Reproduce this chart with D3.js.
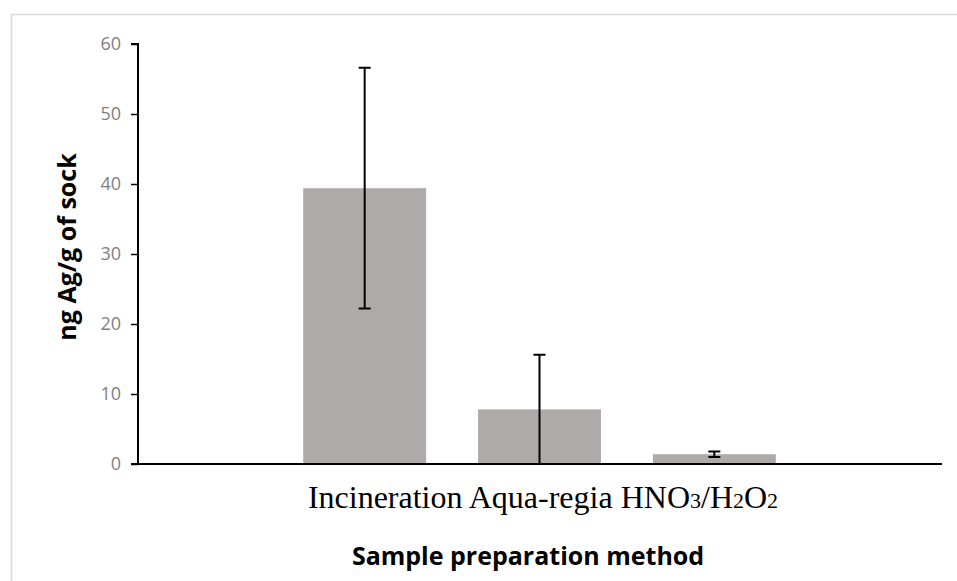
<!DOCTYPE html>
<html>
<head>
<meta charset="utf-8">
<script src="https://cdn.jsdelivr.net/npm/d3@7"></script>
<style>
  body { margin: 0; background: #fff; }
  svg { display: block; }
</style>
</head>
<body>
<div id="chart"></div>
<script>
// chart values
var categories = ["Incineration", "Aqua-regia", "HNO3/H2O2"];
var means = [39.4, 7.8, 1.4];
var errors = [17.2, 7.8, 0.4];
var yTicks = [0, 10, 20, 30, 40, 50, 60];

// the category line is printed as one string; digits after letters are small
var labelParts = [
    { t: "Incineration Aqua-regia HNO", sub: false },
    { t: "3", sub: true },
    { t: "/H", sub: false },
    { t: "2", sub: true },
    { t: "O", sub: false },
    { t: "2", sub: true }
];

function barchart() {
    var w = 957;
    var h = 581;

    var margin = { top: 44, right: 14, bottom: 117, left: 138 };
    var iw = w - margin.left - margin.right;
    var ih = h - margin.top - margin.bottom;

    var svg = d3.select("#chart")
        .append("svg")
        .attr("width", w)
        .attr("height", h);

    // light frame round the chart area
    svg.append("rect")
        .attr("x", 11.5)
        .attr("y", 14.5)
        .attr("width", w)
        .attr("height", h)
        .style("fill", "none")
        .style("stroke", "#d9d9d9")
        .style("stroke-width", 1.5);

    var g = svg.append("g")
        .attr("transform", "translate(" + margin.left + "," + margin.top + ")");

    var xScale = d3.scaleBand()
        .domain(categories)
        .range([139, 664])
        .paddingInner(0.297)
        .paddingOuter(0.15);

    var yScale = d3.scaleLinear()
        .domain([0, 60])
        .range([ih, 0]);

    // bars
    g.selectAll(".bar")
        .data(means)
        .enter()
        .append("rect")
        .attr("class", "bar")
        .attr("x", function (d, i) { return xScale(categories[i]); })
        .attr("width", xScale.bandwidth())
        .attr("y", function (d) { return yScale(d); })
        .attr("height", function (d) { return ih - yScale(d); })
        .style("fill", "#aeaaaa");

    // error bars as one path each: stem plus caps (no lower cap when it hits 0)
    var capW = 6;
    g.selectAll(".err")
        .data(means)
        .enter()
        .append("path")
        .attr("class", "err")
        .attr("d", function (d, i) {
            var cx = xScale(categories[i]) + xScale.bandwidth() / 2;
            var lo = Math.max(0, d - errors[i]);
            var yTop = yScale(d + errors[i]);
            var yLo = yScale(lo);
            var p = "M" + cx + "," + yLo + "V" + yTop +
                "M" + (cx - capW) + "," + yTop + "H" + (cx + capW);
            if (lo > 0.05) p += "M" + (cx - capW) + "," + yLo + "H" + (cx + capW);
            return p;
        })
        .style("fill", "none")
        .style("stroke", "black")
        .style("stroke-width", 2);

    // Y axis
    var yAxis = g.append("g")
        .attr("class", "y axis")
        .call(d3.axisLeft(yScale).tickValues(yTicks).tickSize(7).tickPadding(10));
    yAxis.select(".domain").style("stroke", "black").style("stroke-width", 2)
        .attr("d", "M-7,0H0V" + ih);
    yAxis.selectAll(".tick line").style("stroke", "black").style("stroke-width", 1.5);
    yAxis.selectAll(".tick text")
        .style("fill", "#7f7f7f")
        .style("font-family", "'Open Sans', sans-serif")
        .style("font-size", "18px");

    // X axis line
    g.append("line")
        .attr("x1", -7)
        .attr("x2", iw - 1)
        .attr("y1", ih)
        .attr("y2", ih)
        .style("stroke", "black")
        .style("stroke-width", 2);

    // category line under the bars
    svg.append("text")
        .attr("x", 543)
        .attr("y", 508)
        .attr("text-anchor", "middle")
        .style("font-family", "'Liberation Serif', serif")
        .style("font-size", "32px")
        .style("fill", "black")
        .selectAll("tspan")
        .data(labelParts)
        .enter()
        .append("tspan")
        .style("font-size", function (d) { return d.sub ? "22px" : null; })
        .text(function (d) { return d.t; });

    // axis titles
    svg.append("text")
        .attr("x", 528)
        .attr("y", 565)
        .attr("text-anchor", "middle")
        .style("font-family", "'Open Sans', sans-serif")
        .style("font-weight", "bold")
        .style("font-size", "25px")
        .text("Sample preparation method");

    svg.append("text")
        .attr("transform", "translate(76,247) rotate(-90)")
        .attr("text-anchor", "middle")
        .style("font-family", "'Open Sans', sans-serif")
        .style("font-weight", "bold")
        .style("font-size", "25px")
        .text("ng Ag/g of sock");
}

barchart();
</script>
</body>
</html>
